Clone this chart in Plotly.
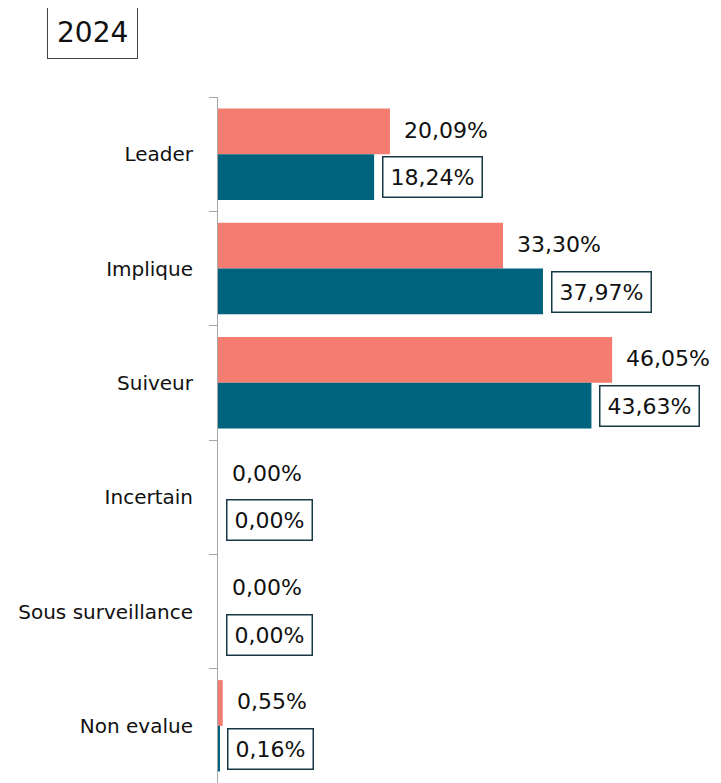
import plotly.graph_objects as go

categories = ["Leader", "Implique", "Suiveur", "Incertain", "Sous surveillance", "Non evalue"]
values_a = [20.09, 33.30, 46.05, 0.00, 0.00, 0.55]
values_b = [18.24, 37.97, 43.63, 0.00, 0.00, 0.16]
title_text = "2024"

SALMON = "#F47C70"
TEAL = "#00637D"
FONT = "DejaVu Sans"


def fmt(v):
    return f"{v:.2f}".replace(".", ",") + "%"


fig = go.Figure()

fig.add_trace(go.Bar(
    x=values_a,
    y=categories,
    orientation='h',
    marker_color=SALMON,
    marker_line_width=0,
    showlegend=False
))

fig.add_trace(go.Bar(
    x=values_b,
    y=categories,
    orientation='h',
    marker_color=TEAL,
    marker_line_width=0,
    showlegend=False
))

# value labels: plain text for the first series, boxed for the second
for cat, va, vb in zip(categories, values_a, values_b):
    fig.add_annotation(
        x=va, y=cat, xref="x", yref="y",
        text=fmt(va), showarrow=False,
        xanchor="left", yanchor="middle",
        xshift=12, yshift=24,
        font=dict(family=FONT, size=22, color="#111111")
    )
    fig.add_annotation(
        x=vb, y=cat, xref="x", yref="y",
        text=fmt(vb), showarrow=False,
        xanchor="left", yanchor="middle",
        xshift=8, yshift=-23,
        font=dict(family=FONT, size=22, color="#111111"),
        bordercolor="#173845", borderwidth=1.5, borderpad=7,
        bgcolor="white"
    )

fig.add_annotation(
    x=-0.2546, y=1.0933, xref="paper", yref="paper",
    text=title_text, showarrow=False,
    xanchor="center", yanchor="middle",
    font=dict(family=FONT, size=28, color="#111111"),
    bordercolor="#444444", borderwidth=1, borderpad=9,
    bgcolor="white"
)

# the page body adds 8px around the figure, so size and margins are reduced by that much
fig.update_layout(
    width=713,
    height=775,
    margin=dict(l=210, r=10, t=89, b=0),
    paper_bgcolor="white",
    plot_bgcolor="white",
    barmode="group",
    bargap=0.2,
    bargroupgap=0,
    font=dict(family=FONT, size=20, color="#111111"),
)

fig.update_xaxes(
    range=[0, 57.6],
    visible=False,
    showgrid=False,
    zeroline=False
)

fig.update_yaxes(
    autorange="reversed",
    showline=True,
    linecolor="#A6A6A6",
    linewidth=1,
    ticks="outside",
    tickson="boundaries",
    ticklen=8,
    tickcolor="#A6A6A6",
    ticklabelstandoff=20,
    showgrid=False,
    zeroline=False,
    tickfont=dict(family=FONT, size=20, color="#111111")
)

fig.write_html("out.html")
